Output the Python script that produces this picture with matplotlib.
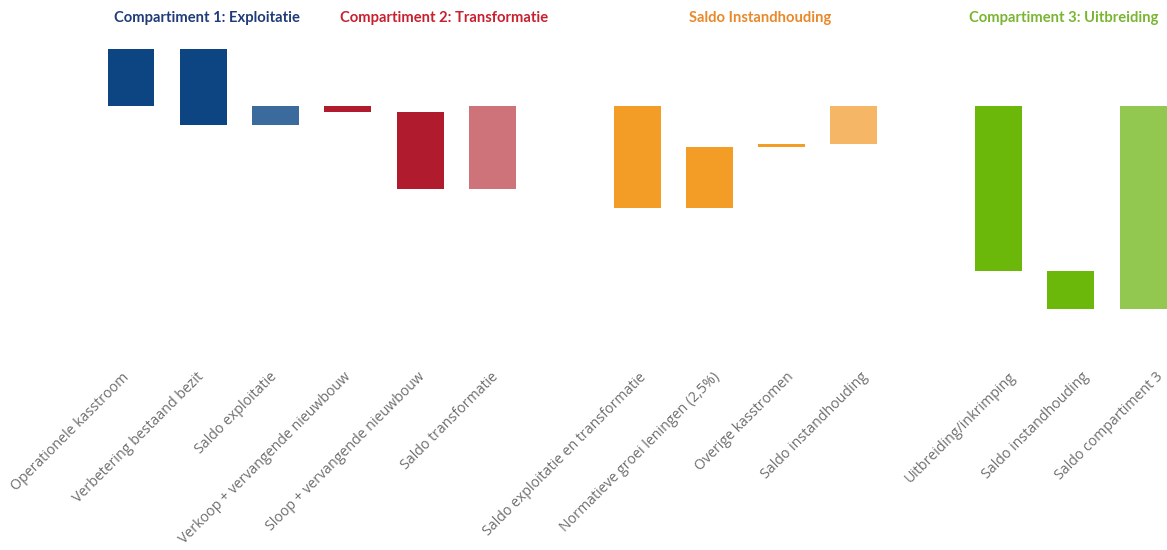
import matplotlib.pyplot as plt
import numpy as np

# waterfall data (arbitrary units)
labels = [
    "Operationele kasstroom", "Verbetering bestaand bezit", "Saldo exploitatie",
    "Verkoop + vervangende nieuwbouw", "Sloop + vervangende nieuwbouw", "Saldo transformatie",
    "Saldo exploitatie en transformatie", "Normatieve groei leningen (2,5%)",
    "Overige kasstromen", "Saldo instandhouding",
    "Uitbreiding/inkrimping", "Saldo instandhouding", "Saldo compartiment 3",
]
slots = [0, 1, 2, 3, 4, 5, 7, 8, 9, 10, 12, 13, 14]

comp1_steps = [57, -76]
comp2_steps = [-6, -77]
inst_steps = [61, 3]
comp3_steps = [-165]

group_titles = ["Compartiment 1: Exploitatie", "Compartiment 2: Transformatie",
                "Saldo Instandhouding", "Compartiment 3: Uitbreiding"]
title_colors = ["#1f3b78", "#c8202f", "#e8892a", "#7ab531"]
title_x = [1.05, 4.33, 8.7, 12.9]

step_col = ["#0c4582", "#b01c2e", "#f39c26", "#6bb80a"]
total_col = ["#3a6b9c", "#cf737b", "#f5b766", "#92c84f"]


def waterfall(start, steps):
    lo, hi = [], []
    level = start
    for s in steps:
        lo.append(min(level, level + s))
        hi.append(max(level, level + s))
        level += s
    return lo, hi, level


bottoms, tops, colors = [], [], []

# compartiment 1
lo, hi, saldo1 = waterfall(0, comp1_steps)
bottoms += lo + [min(0, saldo1)]
tops += hi + [max(0, saldo1)]
colors += [step_col[0]] * 2 + [total_col[0]]

# compartiment 2
lo, hi, saldo2 = waterfall(0, comp2_steps)
bottoms += lo + [min(0, saldo2)]
tops += hi + [max(0, saldo2)]
colors += [step_col[1]] * 2 + [total_col[1]]

# instandhouding
start = saldo1 + saldo2
lo, hi, saldo_inst = waterfall(start, inst_steps)
bottoms += [min(0, start)] + lo + [min(0, saldo_inst)]
tops += [max(0, start)] + hi + [max(0, saldo_inst)]
colors += [step_col[2]] * 3 + [total_col[2]]

# compartiment 3
lo, hi, saldo3 = waterfall(0, comp3_steps + [saldo_inst])
bottoms += lo + [min(0, saldo3)]
tops += hi + [max(0, saldo3)]
colors += [step_col[3]] * 2 + [total_col[3]]

bottoms = np.array(bottoms)
heights = np.array(tops) - bottoms
heights = np.maximum(heights, 2)

fig = plt.figure(figsize=(11.67, 5.5), dpi=100)
ax = fig.add_axes([0, 0, 1, 1])
ax.bar(slots, heights, bottom=bottoms, width=0.65, color=colors, edgecolor="none")

# labels drift a little to the right of their bars further along the axis
for x, lab in zip(slots, labels):
    ax.text(x - 0.05 + 0.021 * x, -269, lab, rotation=45, rotation_mode="anchor",
            ha="right", va="center", fontsize=10.2, color="#6e6e6e",
            family="Open Sans")

for tx, t, c in zip(title_x, group_titles, title_colors):
    ax.text(tx, 88, t, ha="center", va="center", fontsize=10.6,
            fontweight="bold", color=c, family="Lato")

ax.set_xlim(-1.812, 14.33)
ax.set_ylim(-444, 106)
ax.axis("off")

plt.savefig("out.png", dpi=100)
